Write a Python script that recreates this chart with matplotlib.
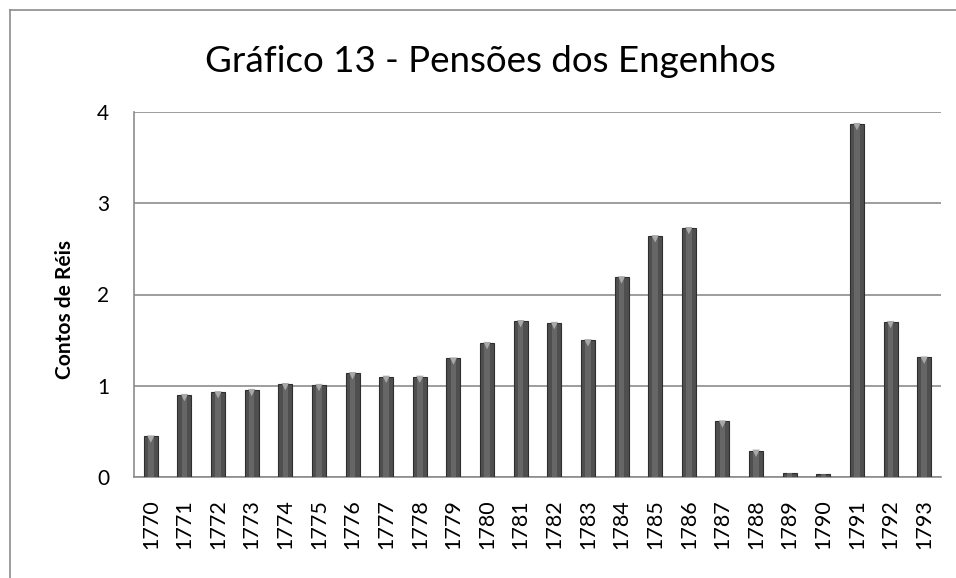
import matplotlib
matplotlib.use("Agg")
import matplotlib.pyplot as plt
from matplotlib.lines import Line2D

years = [str(y) for y in range(1770, 1794)]
values = [0.445, 0.90, 0.93, 0.955, 1.02, 1.01, 1.14, 1.10, 1.10, 1.30, 1.47,
          1.71, 1.69, 1.50, 2.19, 2.64, 2.73, 0.61, 0.29, 0.04, 0.03, 3.87, 1.70, 1.31]
yticks = [0, 1, 2, 3, 4]
title = "Gráfico 13 - Pensões dos Engenhos"
ylabel = "Contos de Réis"

plt.rcParams['font.family'] = ['Lato', 'DejaVu Sans']

fig = plt.figure(figsize=(9.56, 5.78), dpi=100)
ax = fig.add_axes([134/956, 101/578, 807/956, 365/578])

x = list(range(len(years)))
ax.bar(x, values, width=0.42, color='#4f4f4f', edgecolor='#2e2e2e', linewidth=0.8, zorder=3)
ax.bar(x, values, width=0.16, color='#666666', linewidth=0, zorder=4)
mx = [xi for xi, v in zip(x, values) if v > 0.1]
my = [v - 0.03 for v in values if v > 0.1]
ax.scatter(mx, my, marker='v', s=28, color='#a8a8a8', edgecolor='none', zorder=5)

ax.set_xlim(-0.5, len(years) - 0.5)
ax.set_ylim(0, 4)
ax.set_yticks(yticks)
ax.set_yticklabels([str(t) for t in yticks], fontsize=15)
ax.set_xticks(x)
ax.set_xticklabels(years, rotation=90, fontsize=15.5)
ax.tick_params(axis='both', length=0)
ax.tick_params(axis='x', pad=16)
ax.tick_params(axis='y', pad=18)
ax.grid(axis='y', color='#8c8c8c', linewidth=1.2, zorder=1)
for s in ['top', 'right']:
    ax.spines[s].set_visible(False)
for s in ['left', 'bottom']:
    ax.spines[s].set_color('#8c8c8c')
    ax.spines[s].set_linewidth(1.2)

ax.set_ylabel(ylabel, fontsize=15, fontweight='bold')
ax.yaxis.set_label_coords(-0.073, 0.46)
fig.text(490/956, 1 - 62/578, title, fontsize=26.5, ha='center', va='center')

# outer chart border
fig.add_artist(Line2D([10/956, 10/956], [0, 1 - 10/578], color='#8c8c8c', lw=1.2,
                      transform=fig.transFigure))
fig.add_artist(Line2D([10/956, 1], [1 - 10/578, 1 - 10/578], color='#8c8c8c', lw=1.2,
                      transform=fig.transFigure))

fig.savefig("out.png", dpi=100, facecolor='white')
